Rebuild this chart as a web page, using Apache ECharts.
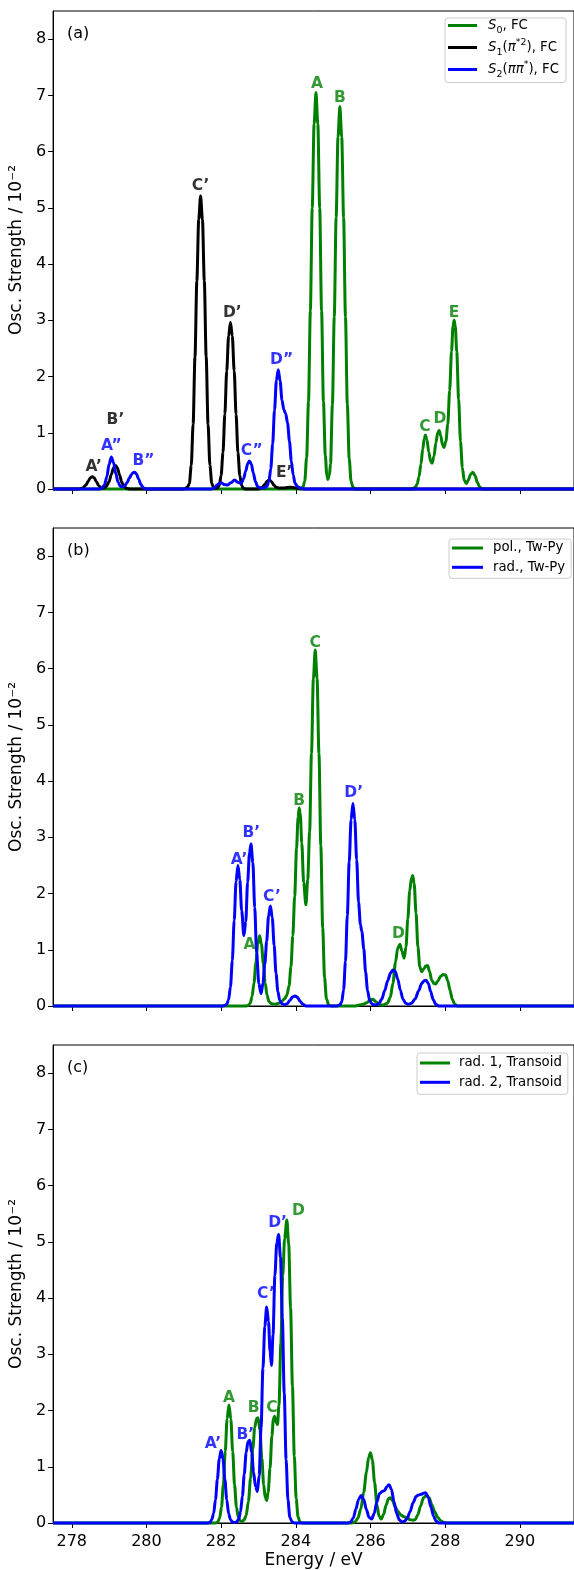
<!DOCTYPE html>
<html><head><meta charset="utf-8">
<script src="https://cdn.jsdelivr.net/npm/echarts@6/dist/echarts.min.js"></script>
<style>html,body{margin:0;padding:0;background:#fff}#c{width:574px;height:1570px}</style>
</head><body><div id="c"></div>
<script>
const energyTicks=[278,280,282,284,286,288,290];
const strengthTicks=[0,1,2,3,4,5,6,7,8];

// Panel (a)
const s0FC=[[277.5,0],[284.12,0],[284.19,0.03],[284.24,0.14],[284.29,0.56],[284.34,1.55],[284.39,3.17],[284.44,5.00],[284.49,6.49],[284.54,7.05],[284.59,6.49],[284.64,5.00],[284.69,3.17],[284.74,1.55],[284.79,0.60],[284.83,0.25],[284.86,0.17],[284.90,0.25],[284.93,0.45],[284.98,1.50],[285.03,3.06],[285.08,4.83],[285.13,6.26],[285.18,6.80],[285.23,6.26],[285.28,4.83],[285.33,3.06],[285.38,1.50],[285.43,0.54],[285.48,0.14],[285.53,0.03],[285.60,0],[287.10,0],[287.20,0.03],[287.25,0.09],[287.30,0.22],[287.35,0.44],[287.40,0.71],[287.44,0.90],[287.47,0.96],[287.51,0.88],[287.56,0.66],[287.61,0.49],[287.65,0.46],[287.70,0.58],[287.75,0.82],[287.80,1.00],[287.84,1.04],[287.88,0.95],[287.93,0.78],[287.97,0.74],[288.02,0.85],[288.07,1.15],[288.12,1.75],[288.17,2.45],[288.21,2.90],[288.24,3.00],[288.27,2.90],[288.31,2.45],[288.36,1.60],[288.41,0.85],[288.46,0.38],[288.51,0.15],[288.57,0.10],[288.62,0.16],[288.68,0.26],[288.74,0.30],[288.80,0.24],[288.86,0.12],[288.92,0.04],[288.98,0],[291.45,0]];
const s1FC=[[277.5,0],[278.20,0],[278.30,0.02],[278.38,0.07],[278.44,0.14],[278.50,0.20],[278.55,0.22],[278.60,0.20],[278.66,0.13],[278.72,0.06],[278.80,0.02],[278.86,0.02],[278.93,0.05],[279.00,0.13],[279.06,0.26],[279.12,0.38],[279.17,0.42],[279.22,0.38],[279.28,0.25],[279.34,0.12],[279.40,0.04],[279.48,0.01],[279.56,0],[281.00,0],[281.10,0.03],[281.15,0.10],[281.20,0.42],[281.25,1.15],[281.30,2.35],[281.35,3.70],[281.40,4.79],[281.45,5.21],[281.50,4.79],[281.55,3.70],[281.60,2.35],[281.65,1.15],[281.70,0.42],[281.75,0.10],[281.80,0.02],[281.86,0.01],[281.90,0.02],[281.95,0.06],[282.00,0.24],[282.05,0.65],[282.10,1.33],[282.15,2.10],[282.20,2.72],[282.25,2.96],[282.30,2.72],[282.35,2.10],[282.40,1.33],[282.45,0.65],[282.50,0.24],[282.55,0.06],[282.60,0.01],[282.68,0],[283.00,0],[283.10,0.03],[283.17,0.08],[283.23,0.14],[283.29,0.16],[283.35,0.13],[283.41,0.07],[283.48,0.03],[283.55,0.02],[283.70,0.02],[283.85,0.03],[284.00,0.02],[284.20,0],[291.45,0]];
const s2FC=[[277.5,0],[278.75,0],[278.82,0.02],[278.88,0.08],[278.94,0.22],[279.00,0.44],[279.06,0.57],[279.12,0.47],[279.18,0.27],[279.24,0.12],[279.30,0.05],[279.36,0.04],[279.42,0.06],[279.48,0.11],[279.54,0.19],[279.60,0.26],[279.64,0.29],[279.68,0.30],[279.73,0.27],[279.79,0.18],[279.85,0.08],[279.92,0.02],[280.00,0],[281.75,0],[281.82,0.02],[281.89,0.07],[281.95,0.10],[282.00,0.11],[282.08,0.08],[282.17,0.07],[282.26,0.11],[282.36,0.16],[282.45,0.12],[282.54,0.10],[282.60,0.18],[282.66,0.32],[282.71,0.45],[282.76,0.50],[282.81,0.44],[282.86,0.29],[282.92,0.13],[282.98,0.04],[283.05,0.02],[283.15,0.02],[283.23,0.05],[283.28,0.13],[283.33,0.36],[283.38,0.80],[283.43,1.40],[283.48,1.93],[283.53,2.12],[283.58,1.92],[283.63,1.58],[283.68,1.41],[283.73,1.34],[283.78,1.17],[283.83,0.85],[283.88,0.50],[283.93,0.25],[283.98,0.10],[284.05,0.04],[284.15,0.01],[284.27,0],[291.45,0]];

// Panel (b)
const polTwPy=[[277.5,0],[282.65,0],[282.73,0.01],[282.78,0.05],[282.83,0.17],[282.88,0.41],[282.93,0.76],[282.98,1.10],[283.03,1.25],[283.08,1.10],[283.13,0.76],[283.18,0.41],[283.23,0.19],[283.28,0.08],[283.35,0.04],[283.45,0.03],[283.55,0.05],[283.63,0.09],[283.70,0.13],[283.76,0.19],[283.82,0.36],[283.87,0.70],[283.92,1.25],[283.97,1.95],[284.02,2.80],[284.06,3.35],[284.09,3.52],[284.12,3.42],[284.16,2.90],[284.21,2.20],[284.27,1.80],[284.32,2.25],[284.37,3.10],[284.42,4.49],[284.47,5.82],[284.52,6.33],[284.57,5.82],[284.62,4.49],[284.67,2.85],[284.72,1.39],[284.77,0.51],[284.82,0.13],[284.88,0.02],[284.95,0],[285.60,0],[285.70,0.02],[285.80,0.03],[285.90,0.06],[286.00,0.11],[286.07,0.12],[286.15,0.07],[286.25,0.02],[286.35,0.02],[286.45,0.05],[286.53,0.15],[286.60,0.40],[286.67,0.78],[286.73,1.03],[286.79,1.10],[286.84,0.98],[286.90,0.85],[286.95,1.05],[287.00,1.55],[287.05,2.05],[287.10,2.28],[287.13,2.32],[287.17,2.18],[287.22,1.65],[287.27,1.05],[287.32,0.70],[287.37,0.61],[287.43,0.66],[287.48,0.71],[287.53,0.72],[287.58,0.62],[287.64,0.46],[287.70,0.40],[287.74,0.39],[287.80,0.44],[287.88,0.53],[287.95,0.56],[288.01,0.55],[288.07,0.45],[288.13,0.28],[288.19,0.12],[288.25,0.04],[288.32,0],[291.45,0]];
const radTwPy=[[277.5,0],[282.05,0],[282.10,0.01],[282.15,0.03],[282.20,0.11],[282.25,0.34],[282.30,0.81],[282.35,1.52],[282.40,2.21],[282.45,2.50],[282.50,2.25],[282.55,1.70],[282.61,1.25],[282.66,1.50],[282.71,2.20],[282.76,2.72],[282.80,2.88],[282.85,2.55],[282.90,1.75],[282.95,0.95],[283.01,0.40],[283.07,0.22],[283.12,0.40],[283.17,0.75],[283.22,1.15],[283.27,1.60],[283.32,1.78],[283.37,1.57],[283.42,1.08],[283.47,0.58],[283.52,0.26],[283.57,0.10],[283.63,0.04],[283.70,0.02],[283.77,0.04],[283.84,0.10],[283.91,0.16],[283.98,0.18],[284.05,0.15],[284.12,0.08],[284.19,0.03],[284.27,0],[285.10,0],[285.18,0.02],[285.23,0.07],[285.28,0.29],[285.33,0.79],[285.38,1.62],[285.43,2.56],[285.48,3.31],[285.53,3.60],[285.58,3.31],[285.63,2.60],[285.68,1.85],[285.73,1.45],[285.77,1.32],[285.82,1.02],[285.87,0.60],[285.92,0.28],[285.98,0.09],[286.05,0.03],[286.15,0.02],[286.22,0.04],[286.30,0.12],[286.38,0.27],[286.46,0.45],[286.54,0.59],[286.60,0.64],[286.66,0.62],[286.73,0.48],[286.80,0.28],[286.87,0.12],[286.94,0.05],[287.01,0.03],[287.10,0.05],[287.20,0.13],[287.29,0.27],[287.37,0.40],[287.44,0.45],[287.49,0.46],[287.55,0.40],[287.61,0.26],[287.68,0.11],[287.75,0.03],[287.82,0],[291.45,0]];

// Panel (c)
const rad1Transoid=[[277.5,0],[281.86,0],[281.91,0.02],[281.96,0.09],[282.01,0.28],[282.06,0.68],[282.11,1.27],[282.16,1.85],[282.21,2.10],[282.26,1.85],[282.31,1.27],[282.36,0.68],[282.41,0.28],[282.46,0.10],[282.51,0.04],[282.56,0.03],[282.61,0.05],[282.67,0.13],[282.73,0.38],[282.79,0.80],[282.85,1.32],[282.90,1.70],[282.95,1.86],[282.99,1.87],[283.04,1.65],[283.09,1.15],[283.14,0.68],[283.18,0.45],[283.22,0.40],[283.26,0.55],[283.31,0.98],[283.36,1.55],[283.40,1.85],[283.43,1.90],[283.47,1.80],[283.51,1.75],[283.55,2.10],[283.60,3.20],[283.65,4.40],[283.70,5.05],[283.76,5.39],[283.81,4.96],[283.86,3.83],[283.91,2.43],[283.96,1.19],[284.01,0.43],[284.06,0.11],[284.11,0.02],[284.18,0],[285.50,0],[285.58,0.02],[285.66,0.08],[285.74,0.25],[285.82,0.55],[285.89,0.90],[285.95,1.17],[286.00,1.25],[286.05,1.12],[286.11,0.72],[286.17,0.33],[286.23,0.12],[286.29,0.07],[286.35,0.15],[286.42,0.32],[286.48,0.43],[286.53,0.45],[286.59,0.40],[286.66,0.29],[286.74,0.20],[286.82,0.14],[286.90,0.11],[286.98,0.09],[287.06,0.06],[287.14,0.05],[287.20,0.06],[287.27,0.15],[287.34,0.30],[287.42,0.45],[287.50,0.50],[287.57,0.45],[287.64,0.33],[287.72,0.20],[287.80,0.10],[287.88,0.04],[287.96,0.01],[288.03,0],[291.45,0]];
const rad2Transoid=[[277.5,0],[281.65,0],[281.70,0.01],[281.75,0.06],[281.80,0.17],[281.85,0.42],[281.90,0.78],[281.95,1.14],[282.00,1.29],[282.05,1.14],[282.10,0.78],[282.15,0.42],[282.20,0.17],[282.25,0.06],[282.30,0.02],[282.36,0.01],[282.42,0.02],[282.47,0.07],[282.52,0.20],[282.57,0.48],[282.62,0.87],[282.67,1.25],[282.72,1.45],[282.77,1.47],[282.82,1.25],[282.87,0.90],[282.92,0.65],[282.97,0.56],[283.02,0.85],[283.07,1.70],[283.12,2.75],[283.17,3.50],[283.22,3.84],[283.27,3.58],[283.31,3.05],[283.35,2.80],[283.39,3.35],[283.44,4.40],[283.49,4.98],[283.54,5.13],[283.59,4.72],[283.64,3.64],[283.69,2.31],[283.74,1.13],[283.79,0.41],[283.84,0.10],[283.90,0.02],[283.97,0],[285.40,0],[285.47,0.02],[285.54,0.09],[285.61,0.25],[285.68,0.42],[285.75,0.49],[285.82,0.42],[285.89,0.24],[285.96,0.10],[286.03,0.07],[286.10,0.17],[286.17,0.37],[286.24,0.52],[286.31,0.56],[286.38,0.58],[286.44,0.65],[286.50,0.68],[286.56,0.60],[286.63,0.38],[286.70,0.17],[286.77,0.06],[286.84,0.02],[286.91,0.03],[286.98,0.08],[287.06,0.20],[287.14,0.36],[287.22,0.47],[287.29,0.50],[287.36,0.51],[287.42,0.53],[287.48,0.54],[287.55,0.45],[287.62,0.28],[287.69,0.12],[287.76,0.03],[287.83,0],[291.45,0]];

// Peak annotations: [text, energy, strength]
const notesS0=[['A',284.57,7.21],['B',285.18,6.95],['C',287.46,1.11],['D',287.86,1.25],['E',288.24,3.13]];
const notesS1=[['A’',278.59,0.39],['B’',279.17,1.23],['C’',281.45,5.38],['D’',282.30,3.13],['E’',283.69,0.29]];
const notesS2=[['A”',279.06,0.77],['B”',279.92,0.49],['C”',282.82,0.68],['D”',283.62,2.30]];
const notesPol=[['A',282.76,1.09],['B',284.09,3.65],['C',284.52,6.46],['D',286.75,1.28]];
const notesRad=[['A’',282.48,2.60],['B’',282.81,3.07],['C’',283.36,1.94],['D’',285.55,3.79]];
const notesRad1=[['A',282.21,2.23],['B',282.87,2.05],['C',283.36,2.05],['D',284.07,5.54]];
const notesRad2=[['A’',281.78,1.40],['B’',282.65,1.57],['C’',283.20,4.07],['D’',283.51,5.34]];

const panelTexts=['(a)','(b)','(c)'];
const legendA=['S0, FC','S1(π*2), FC','S2(ππ*), FC'];
const legendB=['pol., Tw-Py','rad., Tw-Py'];
const legendC=['rad. 1, Transoid','rad. 2, Transoid'];

const GREEN='#008000', BLACK='#000000', BLUE='#0000ff';
const FONT='DejaVu Sans';
const tops=[11,528,1045], H=478;

const richLegend={
  'S0, FC':'{i|S}{sub|0}{t|, FC}',
  'S1(π*2), FC':'{i|S}{sub|1}{t|(}{i|π}{sup|*2}{t|), FC}',
  'S2(ππ*), FC':'{i|S}{sub|2}{t|(}{i|ππ}{sup|*}{t|), FC}'
};

const grids=tops.map(t=>({left:52,right:-2,top:t,height:H,show:true,borderColor:'#000',borderWidth:1,backgroundColor:'transparent'}));
const xAxes=[0,1,2].map(i=>({
  type:'value',gridIndex:i,min:277.5,max:291.45,
  axisLine:{show:true,onZero:false,lineStyle:{color:'#000',width:1}},
  axisTick:{show:true,customValues:energyTicks,length:5,lineStyle:{color:'#000',width:1}},
  axisLabel:{show:i===2,customValues:energyTicks,fontSize:16,color:'#000',margin:11,fontFamily:FONT},
  splitLine:{show:false},
  name:i===2?'Energy / eV':'',nameLocation:'middle',nameGap:29,
  nameTextStyle:{fontSize:17,color:'#000',fontFamily:FONT}
}));
const yAxes=[0,1,2].map(i=>({
  type:'value',gridIndex:i,min:0,max:8.5,
  axisLine:{show:true,lineStyle:{color:'#000',width:1}},
  axisTick:{show:true,customValues:strengthTicks,length:5,lineStyle:{color:'#000',width:1}},
  axisLabel:{customValues:strengthTicks,fontSize:16,color:'#000',margin:7,fontFamily:FONT},
  splitLine:{show:false},
  name:'Osc. Strength / 10⁻²',nameLocation:'middle',nameGap:23,
  nameTextStyle:{fontSize:17,color:'#000',fontFamily:FONT}
}));

function lineS(name,data,color,i,z){
  return {type:'line',name,data,xAxisIndex:i,yAxisIndex:i,showSymbol:false,symbol:'none',
    smooth:0.3,smoothMonotone:'x',clip:false,z,
    lineStyle:{color,width:3},itemStyle:{color},emphasis:{disabled:true},silent:true};
}
function noteS(arr,color,i){
  return {type:'scatter',xAxisIndex:i,yAxisIndex:i,symbolSize:1,z:10,silent:true,
    itemStyle:{color:'rgba(0,0,0,0)'},
    data:arr.map(a=>({name:a[0],value:[a[1],a[2]]})),
    label:{show:true,position:'inside',formatter:'{b}',color,fontSize:15.5,fontWeight:'bold',fontFamily:FONT}};
}

const series=[
  lineS(legendA[0],s0FC,GREEN,0,2),lineS(legendA[1],s1FC,BLACK,0,3),lineS(legendA[2],s2FC,BLUE,0,4),
  lineS(legendB[0],polTwPy,GREEN,1,2),lineS(legendB[1],radTwPy,BLUE,1,3),
  lineS(legendC[0],rad1Transoid,GREEN,2,2),lineS(legendC[1],rad2Transoid,BLUE,2,3),
  noteS(notesS0,GREEN,0),noteS(notesS1,BLACK,0),noteS(notesS2,BLUE,0),
  noteS(notesPol,GREEN,1),noteS(notesRad,BLUE,1),
  noteS(notesRad1,GREEN,2),noteS(notesRad2,BLUE,2)
];

const legBase={orient:'vertical',icon:'rect',itemWidth:30,itemHeight:3,borderColor:'#cccccc',borderWidth:1,borderRadius:3,
  backgroundColor:'rgba(255,255,255,0.8)',selectedMode:false};
const legends=[
  Object.assign({},legBase,{data:legendA,left:445,top:18,itemWidth:29,itemGap:2,padding:[1,7,3,3],
    formatter:n=>richLegend[n],
    textStyle:{fontFamily:FONT,fontSize:13.3,color:'#000',padding:[0,0,0,6],
      rich:{t:{fontSize:13.3,lineHeight:20,fontFamily:FONT,color:'#000'},
            i:{fontSize:13.3,lineHeight:20,fontStyle:'italic',fontFamily:FONT,color:'#000'},
            sub:{fontSize:9.5,lineHeight:11,verticalAlign:'bottom',fontFamily:FONT,color:'#000'},
            sup:{fontSize:9.5,lineHeight:10,verticalAlign:'top',fontFamily:FONT,color:'#000'}}}}),
  Object.assign({},legBase,{data:legendB,left:449,top:539,itemWidth:31,itemGap:3.3,padding:[1,6,3,3],
    textStyle:{fontFamily:FONT,fontSize:13.3,lineHeight:16,color:'#000',padding:[0,0,0,5]}}),
  Object.assign({},legBase,{data:legendC,left:417,top:1053,itemWidth:30,itemGap:3.3,padding:[2,6,4,3],
    textStyle:{fontFamily:FONT,fontSize:13.3,lineHeight:16,color:'#000',padding:[0,0,0,4]}})
];

const graphics=panelTexts.map((t,i)=>({type:'text',left:67,top:tops[i]+15,silent:true,
  style:{text:t,fontSize:16,fontFamily:FONT,fill:'#000'}}));

const chart=echarts.init(document.getElementById('c'),null,{renderer:'canvas'});
chart.setOption({animation:false,backgroundColor:'#fff',textStyle:{fontFamily:FONT},
  grid:grids,xAxis:xAxes,yAxis:yAxes,series,legend:legends,graphic:graphics});
</script></body></html>
